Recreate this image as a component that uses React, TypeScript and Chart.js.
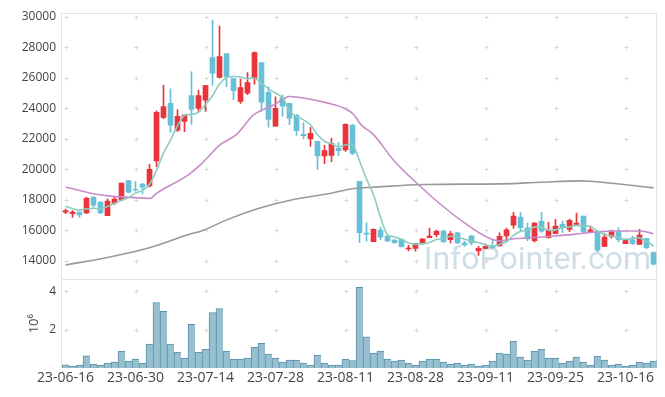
import React, { useEffect, useRef } from 'react';
import { Chart, registerables } from 'chart.js';

Chart.register(...registerables);

// x tick labels (every 10th trading day)
const tickIndex = [0, 10, 20, 30, 40, 50, 60, 70, 80];
const tickDates = ['23-06-16', '23-06-30', '23-07-14', '23-07-28', '23-08-11', '23-08-28', '23-09-11', '23-09-25', '23-10-16'];

const priceTicks = [14000, 16000, 18000, 20000, 22000, 24000, 26000, 28000, 30000];
const volTicks = [2, 4];

// OHLC, one entry per trading day (85 days)
const open = [
  17200, 17100, 17200, 17150, 18180, 17850, 16960, 17790, 18000, 19270,
  18700, 19030, 18920, 20550, 23400, 24320, 22575, 23145, 24840, 23990,
  24535, 27320, 26020, 27580, 25950, 24450, 24990, 25970, 27000, 25040,
  22836, 24710, 24320, 23535, 22300, 21990, 21840, 20880, 20920, 21400,
  21270, 22880, 19225, 15830, 15260, 16026, 15634, 15370, 15420, 14785,
  14830, 15157, 15523, 15720, 15960, 15400, 15850, 15180, 15650, 14654,
  14830, 15000, 14980, 15634, 16352, 16875, 16176, 15327, 16594, 15523,
  15785, 16398, 16072, 16398, 16940, 15895, 15960, 14960, 15614, 15915,
  15130, 15392, 15090, 15483, 14543,
];
const high = [
  17400, 17300, 17200, 18180, 18200, 17850, 18070, 18200, 19100, 19270,
  19205, 19080, 20335, 23840, 25500, 25280, 23900, 23555, 26390, 25190,
  25500, 29785, 29390, 27600, 25950, 25930, 26340, 27700, 27000, 25410,
  24757, 24890, 24320, 23600, 23060, 22750, 21840, 21576, 22030, 21770,
  22990, 22950, 19225, 16500, 16100, 16220, 15700, 15400, 15450, 15025,
  15160, 15457, 16155, 16026, 16026, 15950, 15870, 15300, 15650, 14960,
  15100, 15390, 15850, 16155, 17180, 17180, 16480, 16520, 17180, 16530,
  16724, 16615, 16745, 17136, 16940, 16287, 15960, 15785, 16026, 16176,
  15440, 15634, 16072, 15483, 14600,
];
const low = [
  17100, 16850, 16850, 17100, 17530, 17100, 16960, 17700, 17950, 18450,
  18570, 18400, 18850, 20185, 23320, 22425, 22490, 22470, 22950, 23800,
  23800, 25494, 25970, 25410, 24560, 24320, 24890, 25580, 23800, 22770,
  22836, 23490, 22930, 22230, 21990, 21510, 19990, 20380, 20510, 20900,
  21180, 20970, 15200, 15300, 15260, 15390, 15260, 15150, 14900, 14655,
  14650, 15157, 15523, 15570, 15200, 15180, 15150, 14960, 15046, 14370,
  14785, 14850, 14980, 15242, 16136, 15960, 15330, 15240, 15870, 15500,
  15785, 15850, 15920, 16398, 15850, 15850, 14610, 14960, 15500, 15242,
  15130, 15090, 15090, 14800, 13750,
];
const close = [
  17300, 17200, 17020, 18100, 17660, 17150, 17920, 18050, 19100, 18510,
  18650, 18835, 20010, 23730, 24120, 22900, 23470, 23555, 23930, 24840,
  25494, 26300, 27390, 26060, 25150, 25364, 25690, 27650, 24400, 23270,
  23992, 24143, 23360, 22536, 22200, 22360, 20880, 21230, 21690, 21230,
  22950, 21050, 15850, 15750, 16070, 15570, 15307, 15200, 14935, 14850,
  15157, 15457, 15634, 15940, 15260, 15785, 15180, 15046, 15180, 14830,
  14960, 14850, 15614, 16046, 16940, 16176, 15438, 16483, 15960, 16026,
  16287, 16176, 16660, 16483, 15915, 16046, 14700, 15570, 15960, 15392,
  15392, 15130, 15700, 14870, 13786,
];

// volume, millions of shares
const volume = [
  0.17, 0.10, 0.15, 0.64, 0.21, 0.15, 0.26, 0.31, 0.88, 0.36,
  0.47, 0.26, 1.24, 3.41, 2.95, 1.24, 0.83, 0.52, 2.27, 0.83,
  0.98, 2.89, 3.10, 0.88, 0.47, 0.47, 0.52, 1.09, 1.29, 0.72,
  0.52, 0.31, 0.41, 0.41, 0.26, 0.15, 0.67, 0.26, 0.15, 0.15,
  0.47, 0.38, 4.20, 1.62, 0.78, 0.88, 0.47, 0.36, 0.41, 0.26,
  0.15, 0.36, 0.47, 0.47, 0.31, 0.21, 0.26, 0.15, 0.21, 0.10,
  0.15, 0.36, 0.78, 0.72, 1.40, 0.57, 0.41, 0.88, 0.98, 0.52,
  0.52, 0.26, 0.36, 0.57, 0.31, 0.15, 0.62, 0.41, 0.15, 0.21,
  0.10, 0.15, 0.31, 0.26, 0.36,
];

// short moving average (teal), one value per day
const maShort = [
  17590, 17440, 17330, 17420, 17456, 17426, 17570, 17776, 17976, 18146,
  18446, 18629, 19021, 19947, 21069, 21919, 22846, 23555, 23595, 23739,
  24258, 24824, 25591, 26017, 26079, 26053, 25931, 25983, 25651, 25275,
  25000, 24691, 23833, 23460, 23246, 22920, 22267, 21841, 21672, 21478,
  21596, 21630, 20554, 19366, 18334, 16858, 15709, 15579, 15416, 15172,
  15090, 15120, 15207, 15408, 15490, 15615, 15560, 15442, 15290, 15204,
  15039, 14973, 15087, 15260, 15682, 15925, 16043, 16217, 16199, 16017,
  16039, 16186, 16222, 16326, 16304, 16256, 15961, 15743, 15638, 15534,
  15403, 15489, 15515, 15297, 14976,
];

// medium moving average (purple)
const maMidX = [0, 4, 6.4, 8.8, 12.1, 12.9, 17.6, 19.3, 22.1, 24.4, 26.9, 29.8, 32, 34.6, 37.5, 39.8, 41.2, 42.2, 44, 47, 50.4, 53.6, 57, 60.4, 62.2, 63.2, 68, 72.6, 75, 79.8, 82.3, 84];
const maMidY = [18850, 18400, 18250, 18180, 18095, 18400, 19660, 20310, 21620, 22275, 23580, 24230, 24776, 24625, 24340, 24010, 23580, 22930, 22275, 20530, 19010, 17700, 16500, 15520, 15300, 15400, 15570, 15740, 15875, 15960, 15960, 15785];

// long moving average (gray)
const maLongX = [0, 5.8, 12, 17.6, 19.4, 23.2, 27.9, 32.6, 37.5, 41.2, 44, 51.2, 62.2, 67.9, 73.6, 75, 79.8, 84];
const maLongY = [13740, 14215, 14870, 15740, 15960, 16725, 17490, 18030, 18400, 18750, 18835, 19010, 19050, 19160, 19250, 19225, 19010, 18790];

const UP = '#e8343a';
const DOWN = '#68c0d8';
const TEXT = '#444';
const FONT = '"Open Sans", "DejaVu Sans", sans-serif';

export default function App() {
  const ref = useRef<HTMLCanvasElement>(null);

  useEffect(() => {
    if (!ref.current) return;
    const idx = open.map((_, i) => i);
    const colors = idx.map((i) => (close[i] >= open[i] ? UP : DOWN));

    const deco = {
      id: 'deco',
      beforeDatasetsDraw(chart: any) {
        const ctx = chart.ctx;
        const x = chart.scales.x;
        const y = chart.scales.y;
        const yv = chart.scales.yv;
        ctx.save();
        // watermark
        ctx.font = '32px Roboto, "Liberation Sans", sans-serif';
        ctx.fillStyle = 'rgba(165,195,212,0.55)';
        ctx.textAlign = 'right';
        ctx.textBaseline = 'alphabetic';
        ctx.fillText('InfoPointer.com', x.right - 6, y.bottom - 10);
        // panel borders
        ctx.strokeStyle = '#e2e2e2';
        ctx.lineWidth = 1;
        for (const s of [y, yv]) {
          const t = Math.round(s.top) + 0.5;
          const l = Math.round(x.left) - 0.5;
          const r = Math.round(x.right) - 0.5;
          ctx.beginPath();
          ctx.moveTo(l, Math.round(s.bottom));
          ctx.lineTo(l, t);
          ctx.lineTo(r, t);
          ctx.lineTo(r, Math.round(s.bottom));
          ctx.stroke();
        }
        // grid crosses
        ctx.strokeStyle = '#d8d8d8';
        const xs = tickIndex.map((v) => x.getPixelForValue(v));
        const ys = [
          ...priceTicks.map((v) => y.getPixelForValue(v)),
          ...volTicks.map((v) => yv.getPixelForValue(v)),
        ];
        for (const px0 of xs) {
          for (const py0 of ys) {
            const px = Math.round(px0) + 0.5;
            const py = Math.round(py0) + 0.5;
            ctx.beginPath();
            ctx.moveTo(px - 2, py);
            ctx.lineTo(px + 2, py);
            ctx.moveTo(px, py - 2);
            ctx.lineTo(px, py + 2);
            ctx.stroke();
          }
        }
        ctx.restore();
      },
    };

    const chart = new Chart(ref.current, {
      type: 'bar',
      data: {
        datasets: [
          {
            type: 'line',
            data: idx.map((i) => ({ x: i, y: maShort[i] })),
            yAxisID: 'y',
            borderColor: '#8ccdc0',
            borderWidth: 1.6,
            pointRadius: 0,
            tension: 0.3,
          } as any,
          {
            type: 'line',
            data: maMidX.map((v, k) => ({ x: v, y: maMidY[k] })),
            yAxisID: 'y',
            borderColor: '#c88cc8',
            borderWidth: 1.6,
            pointRadius: 0,
            cubicInterpolationMode: 'monotone',
          } as any,
          {
            type: 'line',
            data: maLongX.map((v, k) => ({ x: v, y: maLongY[k] })),
            yAxisID: 'y',
            borderColor: '#999999',
            borderWidth: 1.6,
            pointRadius: 0,
            cubicInterpolationMode: 'monotone',
          } as any,
          {
            type: 'bar',
            data: idx.map((i) => ({ x: i, y: [Math.min(open[i], close[i]), Math.max(open[i], close[i])] })),
            yAxisID: 'y',
            backgroundColor: colors,
            barThickness: 5,
            grouped: false,
          } as any,
          {
            type: 'bar',
            data: idx.map((i) => ({ x: i, y: [low[i], high[i]] })),
            yAxisID: 'y',
            backgroundColor: colors,
            barThickness: 1,
            grouped: false,
          } as any,
          {
            type: 'bar',
            data: idx.map((i) => ({ x: i, y: volume[i] })),
            yAxisID: 'yv',
            backgroundColor: '#96bfcf',
            borderColor: '#5d8fa8',
            borderWidth: { top: 1, left: 1, right: 0, bottom: 0 },
            borderSkipped: false,
            barThickness: 7,
            grouped: false,
          } as any,
        ],
      },
      options: {
        animation: false,
        responsive: false,
        maintainAspectRatio: false,
        devicePixelRatio: 1,
        layout: { padding: { top: 11, right: 8, left: 0, bottom: 0 } },
        plugins: { legend: { display: false }, tooltip: { enabled: false } },
        scales: {
          x: {
            type: 'linear',
            min: -0.5,
            max: 84.5,
            offset: false,
            grid: { display: false, drawTicks: false },
            border: { display: false },
            afterBuildTicks: (s: any) => {
              s.ticks = tickIndex.map((v) => ({ value: v }));
            },
            afterFit: (s: any) => {
              s.height = 29;
            },
            ticks: {
              autoSkip: false,
              maxRotation: 0,
              padding: 2,
              color: TEXT,
              font: { family: FONT, size: 14 },
              callback: (v: any) => {
                const k = tickIndex.indexOf(v);
                return k >= 0 ? tickDates[k] : '';
              },
            },
          },
          yv: {
            type: 'linear',
            position: 'left',
            stack: 'panels',
            stackWeight: 1,
            min: 0,
            max: 4.62,
            grid: { display: false, drawTicks: false },
            border: { display: false },
            afterBuildTicks: (s: any) => {
              s.ticks = volTicks.map((v) => ({ value: v }));
            },
            afterFit: (s: any) => {
              s.width = 62;
            },
            ticks: { padding: 6, color: TEXT, font: { family: FONT, size: 12 }, callback: (v: any) => String(v) },
            title: {
              display: true,
              text: '10⁶',
              color: TEXT,
              font: { family: FONT, size: 13 },
              padding: { top: 26, bottom: 0 },
            },
          },
          y: {
            type: 'linear',
            position: 'left',
            stack: 'panels',
            stackWeight: 3,
            min: 12800,
            max: 30230,
            grid: { display: false, drawTicks: false },
            border: { display: false },
            afterBuildTicks: (s: any) => {
              s.ticks = priceTicks.map((v) => ({ value: v }));
            },
            afterFit: (s: any) => {
              s.width = 62;
            },
            ticks: { padding: 6, color: TEXT, font: { family: FONT, size: 12 }, callback: (v: any) => String(v) },
          },
        },
      } as any,
      plugins: [deco],
    });

    return () => chart.destroy();
  }, []);

  return (
    <>
      <style>{'body{margin:0}'}</style>
      <canvas ref={ref} width={665} height={397} style={{ display: 'block' }} />
    </>
  );
}
